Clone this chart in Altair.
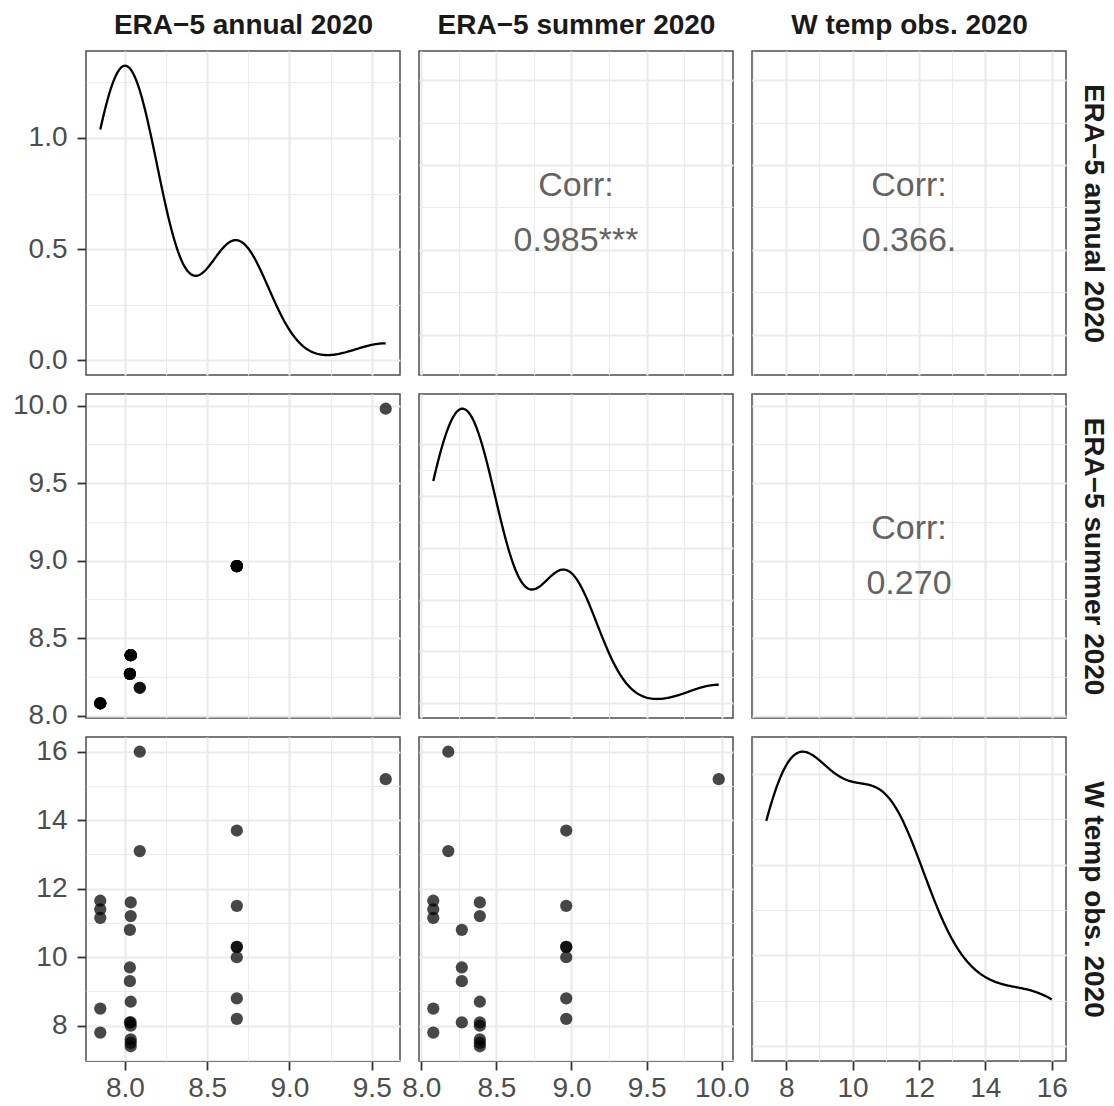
import altair as alt
import numpy as np
import pandas as pd

FONT = "Liberation Sans"

# ---- data (27 sites) ----
annual = [7.85, 7.85, 7.85, 7.85, 7.85,
          8.09, 8.09,
          8.035, 8.035, 8.035, 8.035, 8.035, 8.035, 8.035, 8.035,
          8.03, 8.03, 8.03, 8.03,
          8.68, 8.68, 8.68, 8.68, 8.68, 8.68, 8.68,
          9.585]
summer = [8.08, 8.08, 8.08, 8.08, 8.08,
          8.18, 8.18,
          8.39, 8.39, 8.39, 8.39, 8.39, 8.39, 8.39, 8.39,
          8.27, 8.27, 8.27, 8.27,
          8.965, 8.965, 8.965, 8.965, 8.965, 8.965, 8.965,
          9.98]
wtemp = [11.65, 11.4, 11.15, 8.5, 7.8,
         16.0, 13.1,
         11.6, 11.2, 8.7, 8.1, 8.0, 7.6, 7.5, 7.4,
         10.8, 9.7, 9.3, 8.1,
         13.7, 11.5, 10.3, 10.3, 10.0, 8.8, 8.2,
         15.2]

var_fields = ["annual", "summer", "wtemp"]
var_names = ["ERA\u22125 annual 2020", "ERA\u22125 summer 2020", "W temp obs. 2020"]
corr_texts = {(0, 1): "Corr:\n0.985***", (0, 2): "Corr:\n0.366.", (1, 2): "Corr:\n0.270"}

# axis breaks (major + minor grid)
annual_grid = [7.75, 8.0, 8.25, 8.5, 8.75, 9.0, 9.25, 9.5, 9.75]
summer_grid = [7.75, 8.0, 8.25, 8.5, 8.75, 9.0, 9.25, 9.5, 9.75, 10.0, 10.25]
wtemp_grid = [6, 7, 8, 9, 10, 11, 12, 13, 14, 15, 16, 17]
var_grid = [annual_grid, summer_grid, wtemp_grid]
var_step = [0.5, 0.5, 2]
var_fmt = [".1f", ".1f", "d"]

dens_grid = [
    [0, 0.25, 0.5, 0.75, 1.0, 1.25, 1.5],
    [0, 0.1, 0.2, 0.3, 0.4, 0.5, 0.6, 0.7, 0.8, 0.9, 1.0],
    [0, 0.025, 0.05, 0.075, 0.1, 0.125, 0.15, 0.175, 0.2, 0.225],
]
dens_step = [0.5, 0.2, 0.05]

df = pd.DataFrame({"annual": annual, "summer": summer, "wtemp": wtemp})


def expand(vals):
    lo, hi = min(vals), max(vals)
    r = hi - lo
    return [lo - 0.05 * r, hi + 0.05 * r]


def bw_nrd0(vals):
    x = np.asarray(vals, dtype=float)
    sd = x.std(ddof=1)
    q1, q3 = np.percentile(x, [25, 75])
    lo = min(sd, (q3 - q1) / 1.34)
    if lo <= 0:
        lo = sd
    return 0.9 * lo * len(x) ** (-0.2)


doms = [expand(df[f]) for f in var_fields]
bws = [bw_nrd0(df[f]) for f in var_fields]

W, H = 314, 324


def make_axis(vals, step, fmt, labels, orient, title):
    major = f"abs(datum.value / {step} - round(datum.value / {step})) < 1e-6"
    kw = dict(values=vals, orient=orient, grid=True, domain=False,
              gridColor="#EBEBEB",
              gridWidth={"condition": {"test": major, "value": 2.2}, "value": 1.1})
    if labels:
        kw.update(labels=True, ticks=True,
                  labelExpr=f"({major}) ? format(datum.value, '{fmt}') : ''",
                  tickOpacity={"condition": {"test": major, "value": 1}, "value": 0})
    else:
        kw.update(labels=False, ticks=False)
    kw["title"] = title
    return alt.Axis(**kw)


def x_axis(i, j):
    return make_axis(var_grid[j], var_step[j], var_fmt[j], i == 2,
                     "top" if i == 0 else "bottom",
                     var_names[j] if i == 0 else None)


def y_axis(i, j, dens=False):
    if dens:
        vals, step, fmt = dens_grid[i], dens_step[i], ".1f"
    else:
        vals, step, fmt = var_grid[i], var_step[i], var_fmt[i]
    return make_axis(vals, step, fmt, j == 0,
                     "right" if j == 2 else "left",
                     var_names[i] if j == 2 else None)


def xscale(j):
    return alt.Scale(domain=doms[j], nice=False, zero=False)


def yscale(i):
    return alt.Scale(domain=doms[i], nice=False, zero=False)


panels = []
for i in range(3):
    for j in range(3):
        fx, fy = var_fields[j], var_fields[i]
        if i == j:
            base = alt.Chart(df).transform_density(
                fx, as_=[fx, "density"], bandwidth=bws[j],
                extent=[float(df[fx].min()), float(df[fx].max())], steps=300
            ).transform_calculate(base="0")
            xenc = alt.X(f"{fx}:Q", scale=xscale(j), axis=x_axis(i, j))
            yenc = alt.Y("density:Q",
                         scale=alt.Scale(zero=False, nice=False, padding=14.7),
                         axis=y_axis(i, j, dens=True))
            area = base.mark_area(opacity=0).encode(x=xenc, y=yenc, y2="base:Q")
            line = base.mark_line(color="black", strokeWidth=2.3).encode(x=xenc, y=yenc)
            p = alt.layer(area, line)
        elif i > j:
            p = alt.Chart(df).mark_circle(size=150, color="black", opacity=0.72).encode(
                x=alt.X(f"{fx}:Q", scale=xscale(j), axis=x_axis(i, j)),
                y=alt.Y(f"{fy}:Q", scale=yscale(i), axis=y_axis(i, j)),
            )
        else:
            tdf = pd.DataFrame({"label": [corr_texts[(i, j)]]})
            p = alt.Chart(tdf).mark_text(
                font=FONT, fontSize=34, color="#636363", lineBreak="\n",
                lineHeight=55, align="center", baseline="middle", dy=-27
            ).encode(
                x=alt.XDatum(sum(doms[j]) / 2, type="quantitative",
                             scale=xscale(j), axis=x_axis(i, j)),
                y=alt.YDatum(sum(doms[i]) / 2, type="quantitative",
                             scale=yscale(i), axis=y_axis(i, j)),
                text="label:N",
            )
        panels.append(p.properties(width=W, height=H))

chart = alt.concat(*panels, columns=3, spacing=19, bounds="flush").properties(
    padding={"left": 11, "top": 10, "right": 5, "bottom": 2},
    background="white",
).configure_view(
    stroke="#4d4d4d", strokeWidth=1.5
).configure_axis(
    labelFont=FONT, labelFontSize=28, labelColor="#4D4D4D",
    tickColor="#333333", tickSize=9, tickWidth=1.8,
    titleFont=FONT, titleFontSize=28, titleFontWeight="bold",
    titleColor="#1A1A1A", titlePadding=12,
).configure_axisX(
    labelPadding=4
).configure_axisY(
    labelPadding=10
)

chart.save("out.html", embed_options={"renderer": "svg", "actions": False})
